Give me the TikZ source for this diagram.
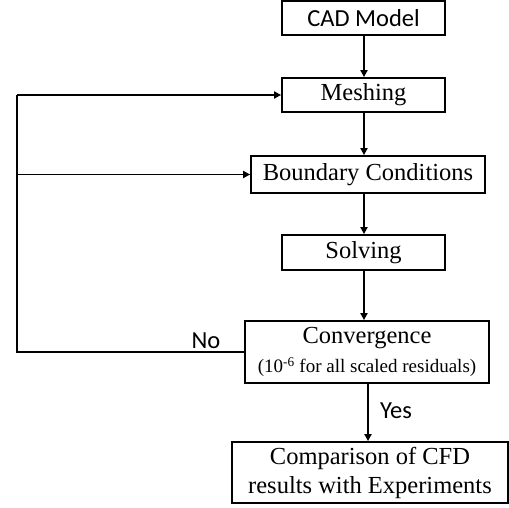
\documentclass[tikz,border=0pt]{standalone}
\usepackage{fontspec}
\setmainfont{Liberation Serif}
\newfontfamily\calib{Carlito}
\usetikzlibrary{arrows.meta}
\begin{document}
\begin{tikzpicture}[x=1pt,y=1pt,
  box/.style={draw,line width=1.8pt,inner sep=0pt,align=center,font=\fontsize{24.5}{29}\selectfont},
  arr/.style={line width=1.8pt,-{Triangle[length=7pt,width=7pt]}},
  lin/.style={line width=1.8pt},
  lab/.style={font=\calib\fontsize{24.5}{26}\selectfont}]
\useasboundingbox (0,0) rectangle (509,507);
\node[box,font=\calib\fontsize{24.5}{26}\selectfont,minimum width=163pt,minimum height=34pt] (cad) at (363.5,489) {CAD Model};
\node[box,minimum width=163pt,minimum height=34pt] (mesh) at (363.5,412) {Meshing};
\node[box,minimum width=234pt,minimum height=37pt] (bc) at (368,332.5) {Boundary Conditions};
\node[box,minimum width=163pt,minimum height=35pt] (solv) at (363.5,254.5) {Solving};
\node[box,minimum width=244pt,minimum height=62pt] (conv) at (367,155) {Convergence\\[0pt]{\fontsize{19}{21}\selectfont(10\textsuperscript{-6} for all scaled residuals)}};
\node[box,minimum width=276pt,minimum height=61pt] (comp) at (370,34.5) {Comparison of CFD\\results with Experiments};
\coordinate (lb) at (17,155);
\coordinate (lt) at (17,412);
\coordinate (lm) at (17,332.5);
\draw[arr] (cad.south -| 364,0) -- (mesh.north -| 364,0);
\draw[arr] (mesh.south -| 364,0) -- (bc.north -| 364,0);
\draw[arr] (bc.south -| 364,0) -- (solv.north -| 364,0);
\draw[arr] (solv.south -| 364,0) -- (conv.north -| 364,0);
\draw[arr] (conv.south -| 368,0) -- (comp.north -| 368,0);
\draw[lin] (conv.west) -- (lb) -- (lt);
\draw[arr] (lt) -- (mesh.west);
\draw[arr] (lm) -- (bc.west);
\node[lab] (no) at (206,166) {No};
\node[lab] (yes) at (396,96) {Yes};
\end{tikzpicture}
\end{document}
